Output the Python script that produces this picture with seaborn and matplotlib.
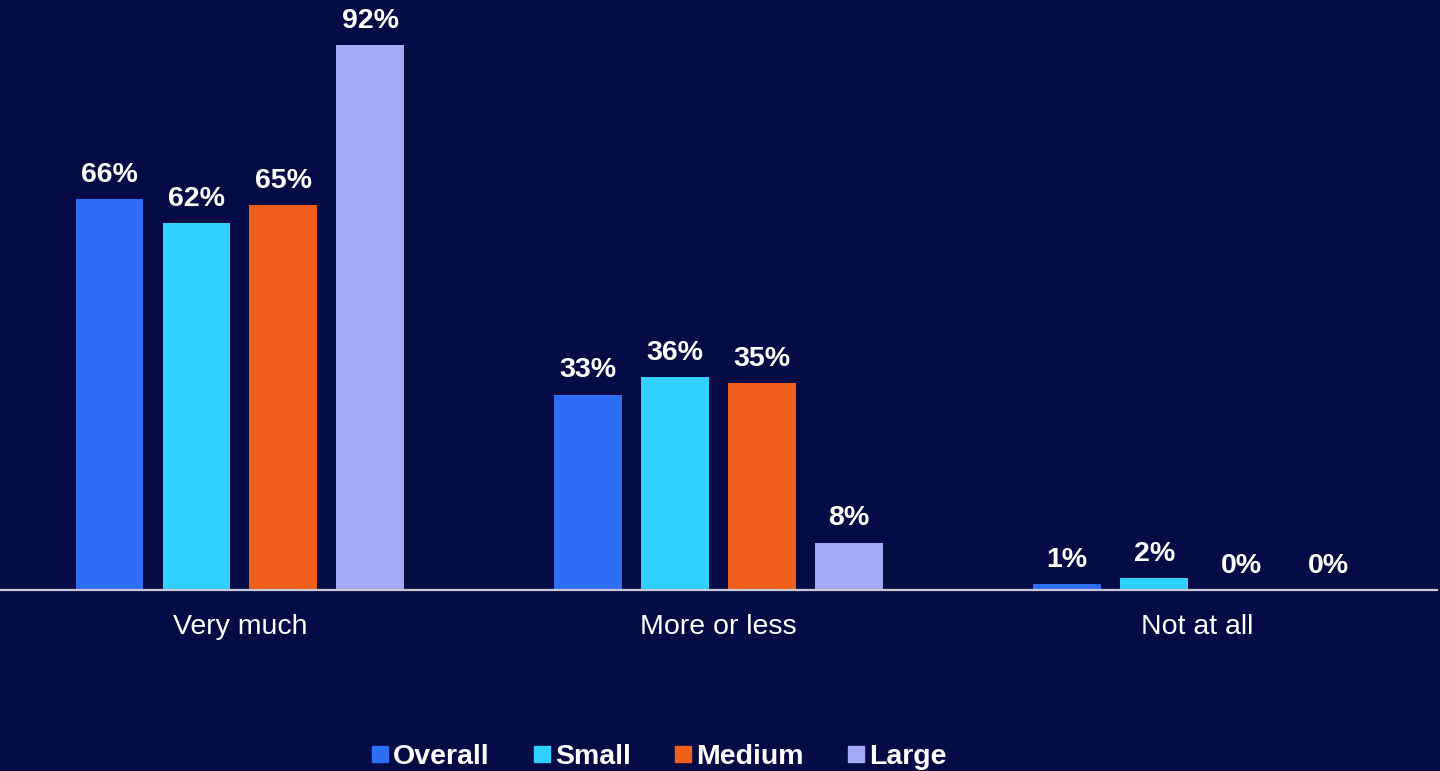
import matplotlib
matplotlib.use("Agg")
import matplotlib.pyplot as plt
from matplotlib.lines import Line2D
import seaborn as sns
import pandas as pd

categories = ["Very much", "More or less", "Not at all"]
series = ["Overall", "Small", "Medium", "Large"]
overall = [66, 33, 1]
small = [62, 36, 2]
medium = [65, 35, 0]
large = [92, 8, 0]
colors = ["#2D6EF5", "#30D0FF", "#EF5E1B", "#A5A8F5"]
bg = "#060B45"

rows = []
for name, vals in zip(series, [overall, small, medium, large]):
    for c, v in zip(categories, vals):
        rows.append({"category": c, "series": name, "value": v})
df = pd.DataFrame(rows)

sns.set_style("white")
plt.rcParams["font.family"] = ["Liberation Sans", "DejaVu Sans"]

fig = plt.figure(figsize=(14.4, 7.71), dpi=100, facecolor=bg)
ax = fig.add_axes([0.5 / 1440, 181 / 771, 1436.5 / 1440, 590 / 771])
ax.set_facecolor(bg)

sns.barplot(data=df, x="category", y="value", hue="series", order=categories,
            hue_order=series, palette=colors, width=0.726, gap=0.22,
            saturation=1, ax=ax, legend=False, errorbar=None, linewidth=0)

for container in ax.containers:
    for bar in container:
        h = bar.get_height()
        ax.annotate(f"{h:.0f}%", (bar.get_x() + bar.get_width() / 2, h),
                    xytext=(0, 8), textcoords="offset points",
                    ha="center", va="bottom", color="white",
                    fontsize=20.5, fontweight="bold")

ax.set_ylim(0, 99.6)
ax.set_xlim(-0.5, 2.5)
ax.set_yticks([])
ax.set_xlabel("")
ax.set_ylabel("")
for s in ["top", "left", "right"]:
    ax.spines[s].set_visible(False)
ax.spines["bottom"].set_color("#C8C8D4")
ax.spines["bottom"].set_linewidth(1.6)
ax.tick_params(axis="x", length=0, pad=17, labelsize=20.5, colors="white")

handles = [Line2D([0], [0], marker="s", linestyle="", markersize=12,
                  markerfacecolor=c, markeredgecolor=c) for c in colors]
leg = fig.legend(handles, series, loc="center", bbox_to_anchor=(659 / 1440, 1 - 757 / 771),
                 ncol=4, frameon=False, handlelength=0.6, handletextpad=0.15,
                 columnspacing=1.55, prop={"size": 20.5, "weight": "bold"})
for t in leg.get_texts():
    t.set_color("white")

fig.savefig("out.png", dpi=100, facecolor=bg)
